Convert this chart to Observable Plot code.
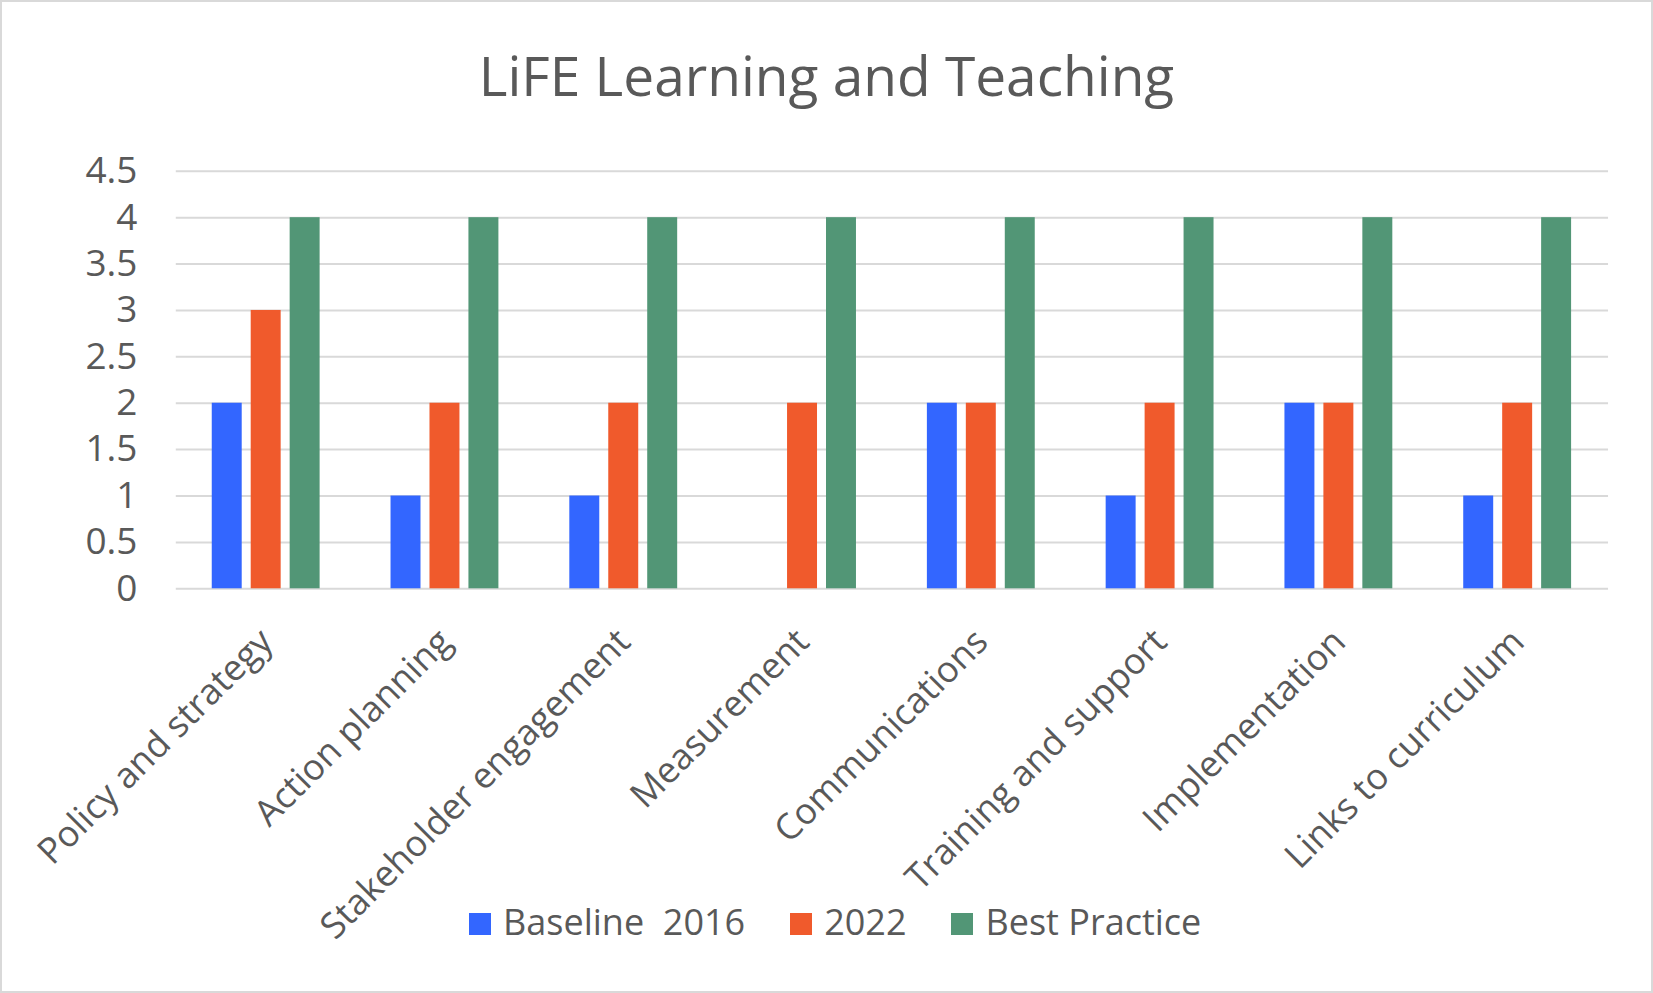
<!DOCTYPE html>
<html>
<head>
<meta charset="utf-8">
<script src="https://cdn.jsdelivr.net/npm/d3@7"></script>
<script src="https://cdn.jsdelivr.net/npm/@observablehq/plot@0.6"></script>
<style>
  html, body { margin: 0; padding: 0; background: #fff; }
  #frame { position: relative; width: 1653px; height: 993px; box-sizing: border-box; border: 2px solid #d9d9d9; overflow: hidden; font-family: "Open Sans", sans-serif; color: #595959; }
  #title { position: absolute; left: 0; right: 0; top: 45px; text-align: center; font-size: 55px; line-height: 55px; white-space: nowrap; }
  #grid, #chart { position: absolute; left: -2px; top: -2px; }
  #legend { position: absolute; left: 467px; top: 902px; display: flex; align-items: center; font-size: 36px; line-height: 36px; white-space: pre; }
  .item { display: flex; align-items: center; margin-right: 45px; }
  .sw { width: 22px; height: 22px; margin-right: 12px; margin-top: 4px; }
</style>
</head>
<body>
<div id="frame">
  <div id="grid"></div>
  <div id="chart"></div>
  <div id="title"></div>
  <div id="legend"></div>
</div>
<script>
const titleText = "LiFE Learning and Teaching";
const categories = ["Policy and strategy", "Action planning", "Stakeholder engagement", "Measurement", "Communications", "Training and support", "Implementation", "Links to curriculum"];
const seriesNames = ["Baseline  2016", "2022", "Best Practice"];
const seriesColors = ["#3366FF", "#F05A2C", "#529676"];
const baseline2016 = [2, 1, 1, 0, 2, 1, 2, 1];
const values2022 = [3, 2, 2, 2, 2, 2, 2, 2];
const bestPractice = [4, 4, 4, 4, 4, 4, 4, 4];
const yTicks = [0, 0.5, 1, 1.5, 2, 2.5, 3, 3.5, 4, 4.5];

const seriesValues = [baseline2016, values2022, bestPractice];
const data = [];
categories.forEach((c, i) => {
  seriesNames.forEach((s, j) => data.push({category: c, series: s, value: seriesValues[j][i]}));
});

document.getElementById("title").textContent = titleText;

const dims = {
  width: 1653,
  height: 993,
  marginLeft: 176,
  marginRight: 43,
  marginTop: 171,
  marginBottom: 404
};
const style = {fontFamily: "Open Sans, sans-serif", color: "#595959", background: "transparent", overflow: "visible"};

// Background layer: gridlines spanning the whole plot area, plus the y axis
const grid = Plot.plot({
  ...dims,
  style,
  x: {axis: null},
  y: {domain: [0, 4.5], label: null},
  marks: [
    Plot.ruleY(yTicks, {stroke: "#d9d9d9", strokeWidth: 2}),
    Plot.axisY({ticks: yTicks, tickSize: 0, tickPadding: 39, fontSize: 37, tickFormat: d => String(d), label: null})
  ]
});
document.getElementById("grid").appendChild(grid);

const chart = Plot.plot({
  ...dims,
  style,
  fx: {domain: categories, paddingInner: 0.38, paddingOuter: 0.19, label: null},
  x: {domain: seriesNames, paddingInner: 0.22, paddingOuter: 0, axis: null},
  y: {domain: [0, 4.5], axis: null},
  color: {domain: seriesNames, range: seriesColors},
  marks: [
    Plot.barY(data, {fx: "category", x: "series", y: "value", fill: "series"}),
    Plot.axisFx({anchor: "bottom", tickRotate: -45, tickSize: 0, tickPadding: 47, fontSize: 36, label: null})
  ]
});
document.getElementById("chart").appendChild(chart);

const legend = document.getElementById("legend");
seriesNames.forEach((s, j) => {
  const item = document.createElement("div");
  item.className = "item";
  const sw = document.createElement("div");
  sw.className = "sw";
  sw.style.background = seriesColors[j];
  const t = document.createElement("span");
  t.textContent = s;
  item.appendChild(sw);
  item.appendChild(t);
  legend.appendChild(item);
});
</script>
</body>
</html>
